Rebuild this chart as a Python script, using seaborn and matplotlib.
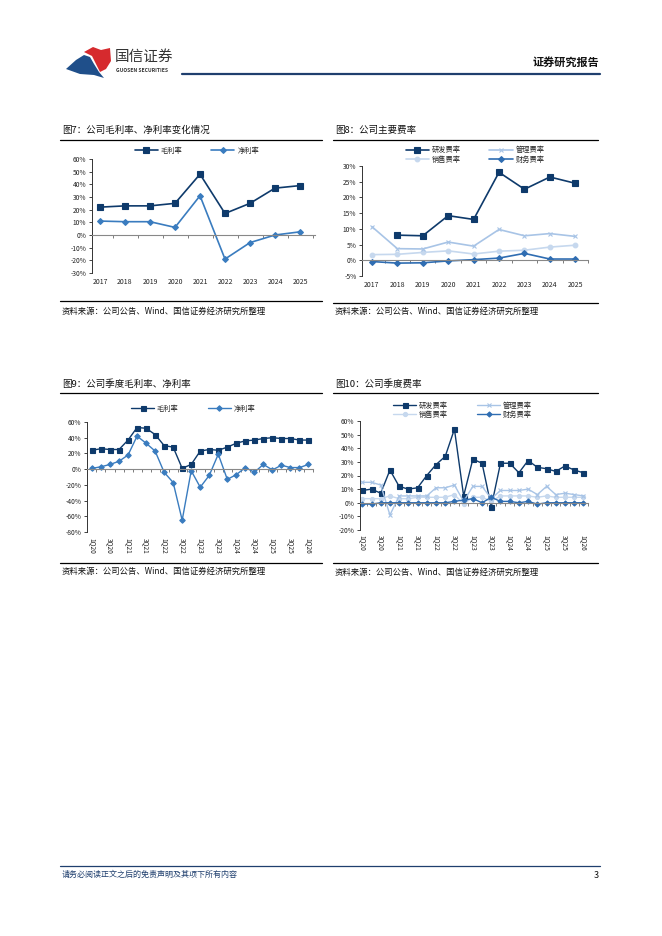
import matplotlib
matplotlib.use('Agg')
import matplotlib.pyplot as plt
from matplotlib.patches import Polygon
from matplotlib.lines import Line2D
import seaborn as sns
import numpy as np
import pandas as pd

# ---- data ----
years = ['2017', '2018', '2019', '2020', '2021', '2022', '2023', '2024', '2025']
gross_y = [22, 23, 23, 25, 48, 17, 25, 37, 39]
net_y = [11, 10.5, 10.5, 6, 31, -19, -6, 0, 2.5]

rd_y = [np.nan, 8, 7.8, 14.2, 13, 28, 22.6, 26.5, 24.5]
mgmt_y = [10.7, 3.7, 3.6, 5.8, 4.5, 9.8, 7.8, 8.5, 7.6]
sales_y = [1.8, 1.9, 2.5, 3.0, 2.0, 2.9, 3.2, 4.2, 4.8]
fin_y = [-0.4, -0.9, -0.8, -0.2, 0.2, 0.7, 2.2, 0.4, 0.4]

quarters = ['1Q20', '2Q20', '3Q20', '4Q20', '1Q21', '2Q21', '3Q21', '4Q21',
            '1Q22', '2Q22', '3Q22', '4Q22', '1Q23', '2Q23', '3Q23', '4Q23',
            '1Q24', '2Q24', '3Q24', '4Q24', '1Q25', '2Q25', '3Q25', '4Q25', '1Q26']
gross_q = [24, 26, 25, 25, 37, 53, 52, 44, 30, 28, 1, 6, 23, 25, 24, 28,
           33, 36, 37, 39, 40, 39, 39, 37, 37]
net_q = [1, 3, 6, 10, 18, 42, 33, 23, -4, -17, -65, -2, -23, -8, 19, -13,
         -7, 2, -4, 6, -1, 5, 2, 2, 6]

rd_q = [9, 10, 7, 24, 12, 10, 11, 20, 28, 34, 54, 5, 32, 29, -3, 29,
        29, 22, 31, 26, 25, 23, 27, 24, 22]
mgmt_q = [15, 15, 13, -9, 5, 5, 5, 5, 11, 11, 13, 1, 12, 12, 3, 9,
          9, 9, 10, 6, 12, 6, 7, 6, 5]
sales_q = [3, 3, 3, 5, 3, 3, 4, 4, 4, 4, 6, -1, 4, 4, 1, 5,
           5, 5, 5, 4, 5, 4, 4, 4, 4]
fin_q = [-1, -1, 0, 0, 0, 0, 0, 0, 0, 0, 1, 2, 3, 0, 4, 1,
         1, 0, 1, -1, 0, 0, 0, 0, 0]

NAVY = '#0E3A6B'
MID = '#3A7CBF'
LIGHT1 = '#A8C4E6'
LIGHT2 = '#C6D8EE'
FIN = '#2F6DB2'

sns.set_theme(style='white')
plt.rcParams['font.family'] = ['Noto Sans CJK SC', 'DejaVu Sans']
plt.rcParams['axes.unicode_minus'] = False

W, H = 662, 936
fig = plt.figure(figsize=(W / 100, H / 100), dpi=100)


def fx(px):
    return px / W


def fy(py):
    return 1 - py / H


def hline(x0, x1, y, lw=1.0, color='black'):
    fig.add_artist(Line2D([fx(x0), fx(x1)], [fy(y), fy(y)], lw=lw, color=color,
                          transform=fig.transFigure))


def make_axes(left, right, top, bottom):
    return fig.add_axes([fx(left), fy(bottom), fx(right) - fx(left), fy(top) - fy(bottom)])


def style_axes(ax, labels, xlim, ylim, yticks, rot, label_y):
    ax.set_xlim(*xlim)
    ax.set_ylim(*ylim)
    ax.set_yticks(yticks)
    ax.set_yticklabels([f'{v}%' for v in yticks], fontsize=4.8, color='#222222')
    ax.tick_params(axis='y', direction='out', length=2.5, width=0.6, pad=1.5, left=True)
    for s in ['top', 'right']:
        ax.spines[s].set_visible(False)
    ax.spines['left'].set_color('#333333')
    ax.spines['left'].set_linewidth(0.7)
    ax.spines['bottom'].set_position(('data', 0))
    ax.spines['bottom'].set_color('#888888')
    ax.spines['bottom'].set_linewidth(0.8)
    n = len(labels)
    ax.set_xticks(np.arange(n) + 0.5)
    ax.set_xticklabels([])
    ax.tick_params(axis='x', direction='out', length=2, width=0.6, color='#666666', bottom=True)
    ax.set_xlabel('')
    ax.set_ylabel('')
    ax.grid(False)
    tr = ax.get_xaxis_transform()
    for i, lab in enumerate(labels):
        if rot:
            if i % 2 == 0:
                ax.text(i, label_y, lab, transform=tr, rotation=270, ha='center', va='top',
                        fontsize=4.8, color='#222222')
        else:
            ax.text(i, label_y, lab, transform=tr, ha='center', va='center',
                    fontsize=5, color='#222222')


def draw(ax, y, color, marker, label, ms=3.6, lw=1.2):
    x = np.arange(len(y))
    df = pd.DataFrame({'x': x, 'y': y})
    sns.lineplot(data=df, x='x', y='y', ax=ax, color=color, marker=marker, markersize=ms,
                 markeredgecolor=color, markerfacecolor=color, markeredgewidth=0.8,
                 linewidth=lw, label=label)


def panel_frame(x0, x1, title, ty, line_y, bottom_y, src_y):
    fig.text(fx(x0 + 2), fy(ty), title, fontsize=6.8, ha='left', va='center', color='#111111')
    hline(x0, x1, line_y, lw=0.9)
    hline(x0, x1, bottom_y, lw=0.9)
    fig.text(fx(x0 + 2), fy(src_y), '资料来源：公司公告、Wind、国信证券经济研究所整理',
             fontsize=6.0, ha='left', va='center', color='#111111')


def legend(ax, ncol, anchor):
    leg = ax.legend(ncol=ncol, loc='center', bbox_to_anchor=anchor, frameon=False,
                    fontsize=5.2, handlelength=3.2, columnspacing=4.0, labelspacing=0.15,
                    handletextpad=0.4, borderaxespad=0)
    return leg


# ---- header ----
logo_blue = [(66, 69), (76, 60), (84, 55), (90, 57), (94, 64), (99, 72), (104, 78),
             (94, 75), (80, 74)]
logo_red = [(84, 52), (93, 47), (101, 50), (110, 48), (111, 61), (106, 69), (100, 72),
            (96, 64), (92, 56)]
fig.add_artist(Polygon([(fx(a), fy(b)) for a, b in logo_blue], closed=True,
                       facecolor='#1F4F8A', edgecolor='none', transform=fig.transFigure))
fig.add_artist(Polygon([(fx(a), fy(b)) for a, b in logo_red], closed=True,
                       facecolor='#D62A2E', edgecolor='none', transform=fig.transFigure))
fig.text(fx(115), fy(57), '国信证券', fontsize=10.5, color='#333333', ha='left', va='center')
fig.text(fx(116), fy(71), 'GUOSEN SECURITIES', fontsize=3.6, color='#333333', ha='left',
         va='center', weight='bold')
fig.text(fx(599), fy(62), '证券研究报告', fontsize=8, color='#111111', ha='right', va='center',
         weight='bold')
hline(182, 600, 74, lw=1.6, color='#1F3F6E')

# ---- chart 7 ----
panel_frame(60, 322, '图7：公司毛利率、净利率变化情况', 130, 140, 301, 311)
ax7 = make_axes(92, 315, 159, 273)
draw(ax7, gross_y, NAVY, 's', '毛利率', ms=3.8)
draw(ax7, net_y, MID, 'D', '净利率', ms=3.0)
style_axes(ax7, years, (-0.32, 8.6), (-30, 60), list(range(-30, 61, 10)), False, -0.08)
legend(ax7, 2, (0.47, 1.07))

# ---- chart 8 ----
panel_frame(333, 598, '图8：公司主要费率', 130, 140, 303, 311)
ax8 = make_axes(362, 588, 166, 276)
draw(ax8, rd_y, NAVY, 's', '研发费率', ms=4.0)
draw(ax8, sales_y, LIGHT2, 'o', '销售费率', ms=3.4)
draw(ax8, mgmt_y, LIGHT1, 'x', '管理费率', ms=3.4)
draw(ax8, fin_y, FIN, 'D', '财务费率', ms=3.0)
style_axes(ax8, years, (-0.39, 8.5), (-5, 30), list(range(-5, 31, 5)), False, -0.08)
legend(ax8, 2, (0.5, 1.1))

# ---- chart 9 ----
panel_frame(60, 322, '图9：公司季度毛利率、净利率', 384, 393, 563, 571)
ax9 = make_axes(87, 313, 422, 532)
draw(ax9, gross_q, NAVY, 's', '毛利率', ms=3.6, lw=1.0)
draw(ax9, net_q, MID, 'D', '净利率', ms=2.8, lw=1.0)
style_axes(ax9, quarters, (-0.55, 24.3), (-80, 60), list(range(-80, 61, 20)), True, -0.05)
legend(ax9, 2, (0.47, 1.12))

# ---- chart 10 ----
panel_frame(333, 598, '图10：公司季度费率', 384, 393, 563, 572)
ax10 = make_axes(360, 588, 421, 530)
draw(ax10, rd_q, NAVY, 's', '研发费率', ms=3.6, lw=1.0)
draw(ax10, sales_q, LIGHT2, 'o', '销售费率', ms=3.0, lw=1.0)
draw(ax10, mgmt_q, LIGHT1, 'x', '管理费率', ms=3.0, lw=1.0)
draw(ax10, fin_q, FIN, 'D', '财务费率', ms=2.6, lw=1.0)
style_axes(ax10, quarters, (-0.25, 24.5), (-20, 60), list(range(-20, 61, 10)), True, -0.05)
legend(ax10, 2, (0.45, 1.1))

# ---- footer ----
hline(60, 600, 866, lw=0.9, color='#1F3F6E')
fig.text(fx(62), fy(874), '请务必阅读正文之后的免责声明及其项下所有内容', fontsize=5.8,
         color='#1F3F6E', style='italic', ha='left', va='center')
fig.text(fx(599), fy(875), '3', fontsize=6.5, color='#111111', ha='right', va='center')

fig.savefig('out.png', dpi=100)
